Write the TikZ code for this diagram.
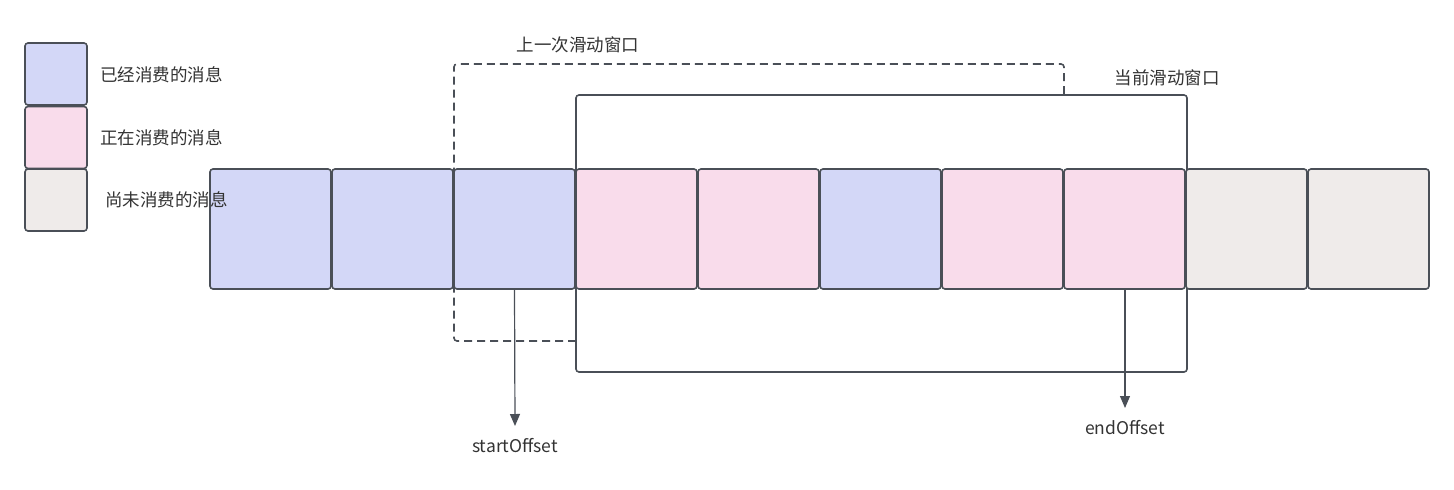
\documentclass[tikz,border=0pt]{standalone}
\usepackage{fontspec}
\setmainfont{Noto Sans CJK SC}
\usetikzlibrary{arrows.meta}
\definecolor{cblue}{RGB}{211,215,247}
\definecolor{cpink}{RGB}{249,220,235}
\definecolor{cgray}{RGB}{239,235,234}
\definecolor{edge}{RGB}{74,79,87}
\definecolor{txt}{RGB}{51,51,51}
\tikzset{
  cell/.style={draw=edge, line width=1.6pt, rounded corners=3pt, minimum width=121pt, minimum height=120pt, inner sep=0pt},
  legbox/.style={draw=edge, line width=1.6pt, rounded corners=3pt, minimum width=62pt, minimum height=62pt, inner sep=0pt},
  lbl/.style={text=txt, font=\fontsize{17.5}{19}\selectfont, inner sep=0pt, anchor=west},
  clbl/.style={text=txt, font=\fontsize{17.5}{19}\selectfont, inner sep=0pt},
  win/.style={draw=edge, line width=1.6pt, rounded corners=3pt},
  dwin/.style={draw=edge, line width=1.6pt, rounded corners=3pt, dash pattern=on 8pt off 5pt},
  arr/.style={draw=edge, line width=1.2pt, -{Triangle[length=12pt,width=10pt]}}
}
\begin{document}
\begin{tikzpicture}[x=1pt,y=-1pt]
\useasboundingbox (0,0) rectangle (1454,490);
% previous window (dashed)
\coordinate (d1) at (576,341);
\coordinate (d2) at (454,341);
\coordinate (d3) at (454,64);
\coordinate (d4) at (1064,64);
\coordinate (d5) at (1064,95);
\draw[dwin] (d1) -- (d2) -- (d3) -- (d4) -- (d5);
% current window
\node[win, minimum width=611pt, minimum height=277pt, inner sep=0pt] (cw) at (881.5,233.5) {};
% cells
\node[cell, fill=cblue] (c1) at (270.5,229) {};
\node[cell, fill=cblue] (c2) at (392.5,229) {};
\node[cell, fill=cblue] (c3) at (514.5,229) {};
\node[cell, fill=cpink] (c4) at (636.5,229) {};
\node[cell, fill=cpink] (c5) at (758.5,229) {};
\node[cell, fill=cblue] (c6) at (880.5,229) {};
\node[cell, fill=cpink] (c7) at (1002.5,229) {};
\node[cell, fill=cpink] (c8) at (1124.5,229) {};
\node[cell, fill=cgray] (c9) at (1246.5,229) {};
\node[cell, fill=cgray] (c10) at (1368.5,229) {};
% legend
\node[legbox, fill=cblue] (l1) at (56,74) {};
\node[legbox, fill=cpink] (l2) at (56,137.5) {};
\node[legbox, fill=cgray] (l3) at (56,200) {};
\node[lbl] (t1) at (100,75) {已经消费的消息};
\node[lbl] (t2) at (100,138) {正在消费的消息};
\node[lbl] (t3) at (105,200) {尚未消费的消息};
% window labels
\node[clbl] (pw) at (578,45) {上一次滑动窗口};
\node[clbl] (cwl) at (1167,78) {当前滑动窗口};
% offsets
\node[clbl] (so) at (515,446) {startOffset};
\node[clbl] (eo) at (1125,428) {endOffset};
\coordinate (sa) at (515,426);
\coordinate (ea) at (1125,408);
\draw[arr] (c3.south) -- (sa);
\draw[arr] ([xshift=0.5pt]c8.south) -- (ea);
\end{tikzpicture}
\end{document}
